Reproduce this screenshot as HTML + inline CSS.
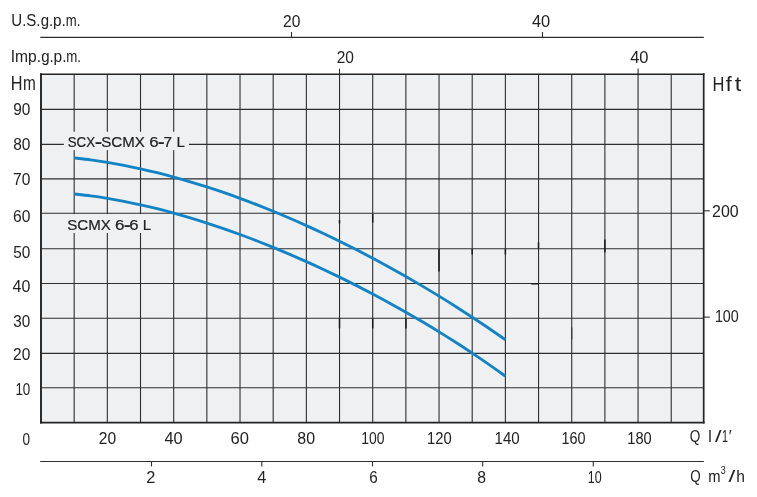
<!DOCTYPE html>
<html lang="en"><head><meta charset="utf-8"><title>SCX-SCMX pump curves</title>
<style>html,body{margin:0;padding:0;background:#fff;}body{width:757px;height:497px;overflow:hidden;}svg{display:block;}text{font-family:"Liberation Sans",sans-serif;fill:#222;}</style>
</head><body>
<svg width="757" height="497" viewBox="0 0 757 497">
<rect width="757" height="497" fill="#fff"/>
<rect x="41.0" y="74.2" width="662.7" height="348.4" fill="#eff0f2"/>
<g stroke="#2e2e2e" stroke-width="1.1" fill="none">
<line x1="74.17" y1="74.2" x2="74.17" y2="422.6"/>
<line x1="107.34" y1="74.2" x2="107.34" y2="422.6"/>
<line x1="140.51" y1="74.2" x2="140.51" y2="422.6"/>
<line x1="173.68" y1="74.2" x2="173.68" y2="422.6"/>
<line x1="206.85" y1="74.2" x2="206.85" y2="422.6"/>
<line x1="240.02" y1="74.2" x2="240.02" y2="422.6"/>
<line x1="273.19" y1="74.2" x2="273.19" y2="422.6"/>
<line x1="306.36" y1="74.2" x2="306.36" y2="422.6"/>
<line x1="339.53" y1="74.2" x2="339.53" y2="422.6"/>
<line x1="372.70" y1="74.2" x2="372.70" y2="422.6"/>
<line x1="405.87" y1="74.2" x2="405.87" y2="422.6"/>
<line x1="439.04" y1="74.2" x2="439.04" y2="422.6"/>
<line x1="472.21" y1="74.2" x2="472.21" y2="422.6"/>
<line x1="505.38" y1="74.2" x2="505.38" y2="422.6"/>
<line x1="538.55" y1="74.2" x2="538.55" y2="422.6"/>
<line x1="571.72" y1="74.2" x2="571.72" y2="422.6"/>
<line x1="604.89" y1="74.2" x2="604.89" y2="422.6"/>
<line x1="638.06" y1="74.2" x2="638.06" y2="422.6"/>
<line x1="671.23" y1="74.2" x2="671.23" y2="422.6"/>
<line x1="41.0" y1="387.80" x2="703.7" y2="387.80"/>
<line x1="41.0" y1="353.40" x2="703.7" y2="353.40"/>
<line x1="41.0" y1="318.30" x2="703.7" y2="318.30"/>
<line x1="41.0" y1="283.50" x2="703.7" y2="283.50"/>
<line x1="41.0" y1="248.80" x2="703.7" y2="248.80"/>
<line x1="41.0" y1="213.30" x2="703.7" y2="213.30"/>
<line x1="41.0" y1="178.90" x2="703.7" y2="178.90"/>
<line x1="41.0" y1="144.40" x2="703.7" y2="144.40"/>
<line x1="41.0" y1="109.40" x2="703.7" y2="109.40"/>
</g>
<g stroke="#1a1a1a" stroke-width="1.5" fill="none">
<line x1="439.0" y1="249.0" x2="439.0" y2="271.4"/>
<line x1="472.2" y1="249.0" x2="472.2" y2="254.5"/>
<line x1="505.4" y1="249.0" x2="505.4" y2="254.5"/>
<line x1="538.5" y1="242.2" x2="538.5" y2="248.2"/>
<line x1="604.9" y1="239.6" x2="604.9" y2="252.5"/>
<line x1="339.5" y1="220.0" x2="339.5" y2="223.5"/>
<line x1="372.7" y1="214.0" x2="372.7" y2="222.6"/>
<line x1="531.3" y1="283.8" x2="538.6" y2="283.8"/>
<line x1="339.5" y1="318.5" x2="339.5" y2="328.4"/>
<line x1="372.7" y1="318.5" x2="372.7" y2="328.4"/>
<line x1="405.9" y1="318.5" x2="405.9" y2="328.4"/>
<line x1="571.7" y1="327.5" x2="571.7" y2="339.5" stroke="#3c3c3c" stroke-width="1.25"/>
</g>
<rect x="63.9" y="131.8" width="125" height="18.3" fill="#eff0f2"/>
<rect x="63.9" y="214.1" width="91" height="18.9" fill="#eff0f2"/>
<g stroke="#1283c4" stroke-width="2.85" fill="none" stroke-linecap="butt">
<path d="M74.17 157.95 C76.93 158.27 85.23 159.16 90.75 159.90 C96.28 160.63 101.81 161.46 107.34 162.37 C112.87 163.28 118.40 164.27 123.93 165.34 C129.45 166.41 134.98 167.56 140.51 168.78 C146.04 170.01 151.57 171.31 157.10 172.68 C162.62 174.05 168.15 175.50 173.68 177.02 C179.21 178.53 184.74 180.12 190.26 181.77 C195.79 183.42 201.32 185.14 206.85 186.92 C212.38 188.71 217.91 190.56 223.44 192.46 C228.96 194.37 234.49 196.35 240.02 198.38 C245.55 200.41 251.08 202.51 256.61 204.66 C262.13 206.82 267.66 209.03 273.19 211.30 C278.72 213.57 284.25 215.90 289.78 218.28 C295.30 220.66 300.83 223.10 306.36 225.60 C311.89 228.10 317.42 230.65 322.94 233.26 C328.47 235.86 334.00 238.53 339.53 241.24 C345.06 243.96 350.59 246.73 356.12 249.56 C361.64 252.39 367.17 255.27 372.70 258.21 C378.23 261.14 383.76 264.13 389.29 267.18 C394.81 270.23 400.34 273.33 405.87 276.49 C411.40 279.65 416.93 282.87 422.46 286.14 C427.98 289.42 433.51 292.75 439.04 296.14 C444.57 299.53 450.10 302.97 455.63 306.48 C461.15 309.99 466.68 313.56 472.21 317.19 C477.74 320.82 483.27 324.51 488.80 328.27 C494.32 332.02 502.62 337.82 505.38 339.73"/>
<path d="M74.17 194.00 C76.93 194.31 85.23 195.17 90.75 195.90 C96.28 196.62 101.81 197.45 107.34 198.35 C112.87 199.26 118.40 200.25 123.93 201.33 C129.45 202.40 134.98 203.56 140.51 204.79 C146.04 206.02 151.57 207.34 157.10 208.72 C162.62 210.10 168.15 211.56 173.68 213.09 C179.21 214.61 184.74 216.21 190.26 217.87 C195.79 219.53 201.32 221.26 206.85 223.05 C212.38 224.83 217.91 226.69 223.44 228.60 C228.96 230.51 234.49 232.49 240.02 234.52 C245.55 236.55 251.08 238.64 256.61 240.79 C262.13 242.94 267.66 245.14 273.19 247.40 C278.72 249.66 284.25 251.97 289.78 254.34 C295.30 256.71 300.83 259.14 306.36 261.62 C311.89 264.09 317.42 266.63 322.94 269.21 C328.47 271.80 334.00 274.44 339.53 277.14 C345.06 279.84 350.59 282.59 356.12 285.39 C361.64 288.20 367.17 291.06 372.70 293.98 C378.23 296.90 383.76 299.87 389.29 302.91 C394.81 305.94 400.34 309.03 405.87 312.19 C411.40 315.34 416.93 318.55 422.46 321.83 C427.98 325.11 433.51 328.45 439.04 331.86 C444.57 335.26 450.10 338.73 455.63 342.28 C461.15 345.82 466.68 349.43 472.21 353.12 C477.74 356.80 483.27 360.56 488.80 364.39 C494.32 368.23 502.62 374.18 505.38 376.14"/>
</g>
<g stroke="#232323" fill="none" stroke-linecap="square">
<line x1="41.0" y1="74.2" x2="41.0" y2="422.6" stroke-width="1.9"/>
<line x1="41.0" y1="74.2" x2="703.7" y2="74.2" stroke-width="1.6"/>
<line x1="703.7" y1="74.2" x2="703.7" y2="422.6" stroke-width="1.7"/>
<line x1="41.0" y1="422.6" x2="703.7" y2="422.6" stroke-width="1.9"/>
</g>
<g stroke="#2e2e2e" stroke-width="1.1" fill="none">
<line x1="40.3" y1="37.4" x2="703.8" y2="37.4"/>
<line x1="40.3" y1="461.5" x2="703.9" y2="461.5"/>
<line x1="291.5" y1="32" x2="291.5" y2="37.4"/>
<line x1="542.5" y1="32" x2="542.5" y2="37.4"/>
<line x1="339.5" y1="68.6" x2="339.5" y2="74"/>
<line x1="638.1" y1="68.6" x2="638.1" y2="74"/>
<line x1="151.5" y1="461.5" x2="151.5" y2="466.4"/>
<line x1="261.8" y1="461.5" x2="261.8" y2="466.4"/>
<line x1="372.5" y1="461.5" x2="372.5" y2="466.4"/>
<line x1="482.7" y1="461.5" x2="482.7" y2="466.4"/>
<line x1="593.3" y1="461.5" x2="593.3" y2="466.4"/>
<line x1="704" y1="210.8" x2="709.8" y2="210.8"/>
<line x1="704" y1="317.1" x2="709.8" y2="317.1"/>
</g>
<text font-size="16"><tspan x="11.27" y="25.8" textLength="29.28" lengthAdjust="spacingAndGlyphs">U.S.</tspan><tspan x="40.70" y="25.8" textLength="12.54" lengthAdjust="spacingAndGlyphs">g.</tspan><tspan x="53.08" y="25.8" textLength="12.78" lengthAdjust="spacingAndGlyphs">p.</tspan><tspan x="65.85" y="25.8" textLength="14.58" lengthAdjust="spacingAndGlyphs">m.</tspan></text>
<text font-size="16"><tspan x="10.80" y="61.8" textLength="30.30" lengthAdjust="spacingAndGlyphs">Imp.</tspan><tspan x="41.20" y="61.8" textLength="12.54" lengthAdjust="spacingAndGlyphs">g.</tspan><tspan x="53.57" y="61.8" textLength="12.91" lengthAdjust="spacingAndGlyphs">p.</tspan><tspan x="66.34" y="61.8" textLength="14.70" lengthAdjust="spacingAndGlyphs">m.</tspan></text>
<text font-size="17"><tspan x="283.12" y="26.5" textLength="17.36" lengthAdjust="spacingAndGlyphs">20</tspan></text>
<text font-size="17"><tspan x="531.97" y="26.5" textLength="18.24" lengthAdjust="spacingAndGlyphs">40</tspan></text>
<text font-size="17"><tspan x="336.72" y="63.3" textLength="17.25" lengthAdjust="spacingAndGlyphs">20</tspan></text>
<text font-size="17"><tspan x="630.17" y="63.3" textLength="18.35" lengthAdjust="spacingAndGlyphs">40</tspan></text>
<text font-size="21"><tspan x="10.70" y="89.8" textLength="11.76" lengthAdjust="spacingAndGlyphs">H</tspan><tspan x="23.10" y="89.8" textLength="12.76" lengthAdjust="spacingAndGlyphs">m</tspan></text>
<text font-size="21"><tspan x="712.38" y="90.6" textLength="11.89" lengthAdjust="spacingAndGlyphs">H</tspan><tspan x="725.89" y="90.6" textLength="5.97" lengthAdjust="spacingAndGlyphs">f</tspan><tspan x="734.75" y="90.6" textLength="6.52" lengthAdjust="spacingAndGlyphs">t</tspan></text>
<text font-size="17"><tspan x="13.21" y="115.2" textLength="17.17" lengthAdjust="spacingAndGlyphs">90</tspan></text>
<text font-size="17"><tspan x="13.18" y="149.6" textLength="17.20" lengthAdjust="spacingAndGlyphs">80</tspan></text>
<text font-size="17"><tspan x="13.12" y="184.7" textLength="17.25" lengthAdjust="spacingAndGlyphs">70</tspan></text>
<text font-size="17"><tspan x="13.02" y="222.3" textLength="17.36" lengthAdjust="spacingAndGlyphs">60</tspan></text>
<text font-size="17"><tspan x="13.29" y="257.6" textLength="17.09" lengthAdjust="spacingAndGlyphs">50</tspan></text>
<text font-size="17"><tspan x="12.58" y="291.6" textLength="17.82" lengthAdjust="spacingAndGlyphs">40</tspan></text>
<text font-size="17"><tspan x="13.36" y="326.9" textLength="17.01" lengthAdjust="spacingAndGlyphs">30</tspan></text>
<text font-size="17"><tspan x="13.12" y="359.9" textLength="17.25" lengthAdjust="spacingAndGlyphs">20</tspan></text>
<text font-size="17"><tspan x="15.39" y="394.8" textLength="14.91" lengthAdjust="spacingAndGlyphs">10</tspan></text>
<text font-size="17"><tspan x="712.10" y="217.1" textLength="26.61" lengthAdjust="spacingAndGlyphs">200</tspan></text>
<text font-size="17"><tspan x="714.93" y="322.3" textLength="23.82" lengthAdjust="spacingAndGlyphs">100</tspan></text>
<text font-size="17"><tspan x="22.52" y="444.6" textLength="7.57" lengthAdjust="spacingAndGlyphs">0</tspan></text>
<text font-size="17"><tspan x="98.82" y="444.3" textLength="17.36" lengthAdjust="spacingAndGlyphs">20</tspan></text>
<text font-size="17"><tspan x="164.47" y="444.3" textLength="18.24" lengthAdjust="spacingAndGlyphs">40</tspan></text>
<text font-size="17"><tspan x="230.47" y="444.3" textLength="18.45" lengthAdjust="spacingAndGlyphs">60</tspan></text>
<text font-size="17"><tspan x="297.36" y="444.3" textLength="17.73" lengthAdjust="spacingAndGlyphs">80</tspan></text>
<text font-size="17"><tspan x="361.15" y="444.3" textLength="23.28" lengthAdjust="spacingAndGlyphs">100</tspan></text>
<text font-size="17"><tspan x="426.99" y="444.3" textLength="24.68" lengthAdjust="spacingAndGlyphs">120</tspan></text>
<text font-size="17"><tspan x="494.57" y="444.3" textLength="25.11" lengthAdjust="spacingAndGlyphs">140</tspan></text>
<text font-size="17"><tspan x="561.52" y="444.3" textLength="24.04" lengthAdjust="spacingAndGlyphs">160</tspan></text>
<text font-size="17"><tspan x="627.31" y="444.3" textLength="24.36" lengthAdjust="spacingAndGlyphs">180</tspan></text>
<text font-size="17"><tspan x="146.28" y="482.6" textLength="9.07" lengthAdjust="spacingAndGlyphs">2</tspan></text>
<text font-size="17"><tspan x="257.37" y="482.6" textLength="9.05" lengthAdjust="spacingAndGlyphs">4</tspan></text>
<text font-size="17"><tspan x="369.14" y="482.6" textLength="8.49" lengthAdjust="spacingAndGlyphs">6</tspan></text>
<text font-size="17"><tspan x="477.27" y="482.6" textLength="8.78" lengthAdjust="spacingAndGlyphs">8</tspan></text>
<text font-size="17"><tspan x="587.76" y="482.6" textLength="13.90" lengthAdjust="spacingAndGlyphs">10</tspan></text>
<text font-size="17"><tspan x="689.79" y="441.7" textLength="14.33" lengthAdjust="spacingAndGlyphs">Q </tspan><tspan x="708.27" y="441.7" textLength="3.51" lengthAdjust="spacingAndGlyphs">l</tspan><tspan x="714.90" y="441.7" textLength="6.55" lengthAdjust="spacingAndGlyphs">/</tspan><tspan x="722.09" y="441.7" textLength="6.01" lengthAdjust="spacingAndGlyphs">1</tspan><tspan x="728.68" y="441.7" textLength="2.88" lengthAdjust="spacingAndGlyphs">′</tspan></text>
<text font-size="17"><tspan x="690.30" y="481.7" textLength="14.18" lengthAdjust="spacingAndGlyphs">Q </tspan><tspan x="708.24" y="481.7" textLength="12.29" lengthAdjust="spacingAndGlyphs">m</tspan><tspan x="720.79" y="474.2" font-size="10.5" textLength="4.98" lengthAdjust="spacingAndGlyphs">3</tspan><tspan x="728.50" y="481.7" textLength="6.75" lengthAdjust="spacingAndGlyphs">/</tspan><tspan x="736.29" y="481.7" textLength="8.67" lengthAdjust="spacingAndGlyphs">h</tspan></text>
<text font-size="15.4" stroke="#222" stroke-width="0.22"><tspan x="67.70" y="146.6" textLength="27.31" lengthAdjust="spacingAndGlyphs">SCX</tspan><tspan x="95.06" y="147.0" font-weight="bold" textLength="7.05" lengthAdjust="spacingAndGlyphs">-</tspan><tspan x="101.22" y="146.6" textLength="47.76" lengthAdjust="spacingAndGlyphs">SCMX </tspan><tspan x="149.26" y="146.6" textLength="9.33" lengthAdjust="spacingAndGlyphs">6</tspan><tspan x="158.11" y="147.0" font-weight="bold" textLength="6.53" lengthAdjust="spacingAndGlyphs">-</tspan><tspan x="163.43" y="146.6" textLength="12.87" lengthAdjust="spacingAndGlyphs">7 </tspan><tspan x="176.60" y="146.6" textLength="8.37" lengthAdjust="spacingAndGlyphs">L</tspan></text>
<text font-size="15.4" stroke="#222" stroke-width="0.22"><tspan x="67.32" y="229.6" textLength="47.76" lengthAdjust="spacingAndGlyphs">SCMX </tspan><tspan x="115.05" y="229.6" textLength="9.45" lengthAdjust="spacingAndGlyphs">6</tspan><tspan x="123.91" y="230.0" font-weight="bold" textLength="6.53" lengthAdjust="spacingAndGlyphs">-</tspan><tspan x="129.26" y="229.6" textLength="13.99" lengthAdjust="spacingAndGlyphs">6 </tspan><tspan x="142.80" y="229.6" textLength="8.37" lengthAdjust="spacingAndGlyphs">L</tspan></text>
</svg>
</body></html>
